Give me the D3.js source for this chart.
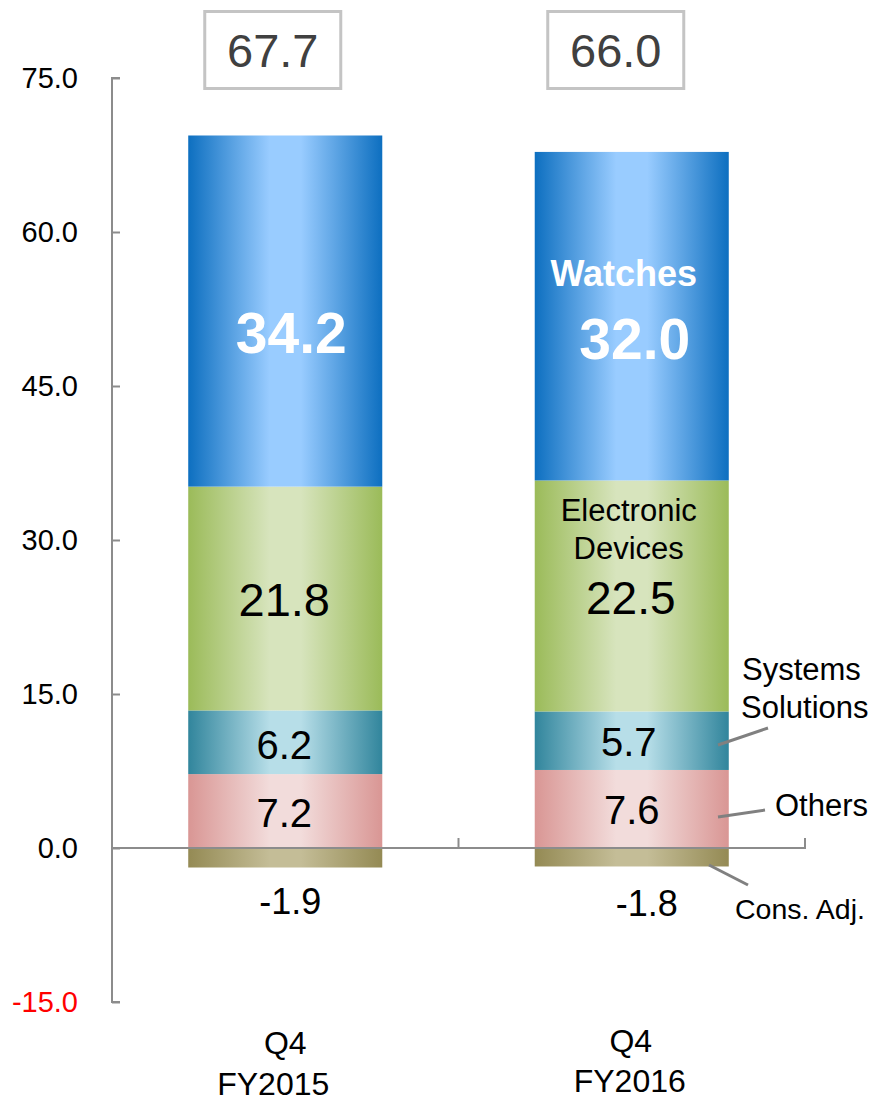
<!DOCTYPE html>
<html><head><meta charset="utf-8">
<script src="https://cdn.jsdelivr.net/npm/d3@7"></script>
<style>body{margin:0;background:#fff}svg{display:block;font-family:"Liberation Sans",Arial,sans-serif}</style>
</head><body><svg id="c" width="877" height="1096"></svg>
<script>
const categories = ["Q4\nFY2015", "Q4\nFY2016"];
const totals = ["67.7", "66.0"];
const others = [7.2, 7.6];
const systems = [6.2, 5.7];
const electronic = [21.8, 22.5];
const watches = [34.2, 32.0];
const consAdj = [-1.9, -1.8];
const yTicks = [-15, 0, 15, 30, 45, 60, 75];

const svg = d3.select("#c");
const y = d3.scaleLinear().domain([-15, 75]).range([1002, 78]);
const x = d3.scaleBand().domain(categories).range([112, 805]).paddingInner(0.44).paddingOuter(0.22);
const fmt = v => d3.format(".1f")(v).replace("\u2212", "-");

const segs = [
  {key:"others", vals:others, dark:"#d99694", light:"#f2dcdb"},
  {key:"systems", vals:systems, dark:"#31859c", light:"#b7dee8"},
  {key:"electronic", vals:electronic, dark:"#9bbb59", light:"#d7e4bd"},
  {key:"watches", vals:watches, dark:"#0d6fc0", light:"#99ccff"},
  {key:"cons", vals:consAdj, dark:"#948a54", light:"#c4bd97"}
];
const defs = svg.append("defs");
segs.forEach(s => {
  const g = defs.append("linearGradient").attr("id","g-"+s.key).attr("x1","0").attr("x2","1").attr("y1","0").attr("y2","0");
  g.append("stop").attr("offset","0").attr("stop-color",s.dark);
  g.append("stop").attr("offset","0.42").attr("stop-color",s.light);
  g.append("stop").attr("offset","0.58").attr("stop-color",s.light);
  g.append("stop").attr("offset","1").attr("stop-color",s.dark);
});

// stacked rects
const rects = [];
categories.forEach((c,i) => {
  let base = 0;
  segs.forEach(s => {
    const v = s.vals[i];
    if (v >= 0) { rects.push({c, key:s.key, y0:base, y1:base+v}); base += v; }
    else rects.push({c, key:s.key, y0:v, y1:0});
  });
});
svg.append("g").selectAll("rect").data(rects).join("rect")
  .attr("x", d => x(d.c)).attr("width", x.bandwidth())
  .attr("y", d => y(d.y1)).attr("height", d => y(d.y0) - y(d.y1))
  .attr("fill", d => "url(#g-"+d.key+")");

// y axis
const axisColor = "#8c8c8c";
const yAxis = svg.append("g").attr("transform","translate(112,0)")
  .call(d3.axisRight(y).tickValues(yTicks).tickSize(8).tickFormat(""));
yAxis.select(".domain").attr("stroke",axisColor).attr("stroke-width",2).attr("d","M8,"+y(75)+"H0V"+y(-15)+"H8");
yAxis.selectAll(".tick line").attr("stroke",axisColor).attr("stroke-width",2);
svg.append("g").selectAll("text").data(yTicks).join("text")
  .attr("x", 78).attr("y", d => y(d)).attr("dy","0.36em").attr("text-anchor","end")
  .attr("font-size",29).attr("fill", d => d < 0 ? "#ff0000" : "#000")
  .text(d => fmt(d));

// x axis at zero
const xAxisG = svg.append("g");
xAxisG.append("line").attr("x1",112).attr("x2",806).attr("y1",y(0)).attr("y2",y(0)).attr("stroke",axisColor).attr("stroke-width",2);
const sepX = [(x(categories[0])+x.bandwidth()+x(categories[1]))/2, 805];
xAxisG.selectAll(".t").data(sepX).join("line").attr("class","t")
  .attr("x1",d=>d).attr("x2",d=>d).attr("y1",y(0)).attr("y2",y(0)-10).attr("stroke",axisColor).attr("stroke-width",2);

// category labels
const catBase = [[1054, 1095], [1052, 1092]];
const catDx = [[0, -12], [-1, -2]];
categories.forEach((c,i) => {
  const cx = x(c) + x.bandwidth()/2;
  c.split("\n").forEach((l,j) => {
    svg.append("text").attr("x",cx + catDx[i][j]).attr("y",catBase[i][j])
      .attr("text-anchor","middle").attr("font-size",32).attr("fill","#000").text(l);
  });
});

// total boxes
const boxOff = [-12.5, -16];
categories.forEach((c,i) => {
  const cx = x(c) + x.bandwidth()/2 + boxOff[i];
  svg.append("rect").attr("x", cx-68).attr("y",11.5).attr("width",136).attr("height",77)
    .attr("fill","#fff").attr("stroke","#c4c4c4").attr("stroke-width",3);
  svg.append("text").attr("x", cx).attr("y",50).attr("dy","0.36em").attr("text-anchor","middle")
    .attr("font-size",47).attr("fill","#404040").text(totals[i]);
});

// segment labels
function lab(cx, yy, txt, size, opts={}) {
  return svg.append("text").attr("x",cx).attr("y",yy).attr("dy","0.36em").attr("text-anchor",opts.anchor||"middle")
    .attr("font-size",size).attr("font-weight",opts.bold?"bold":"normal").attr("fill",opts.fill||"#000").text(txt);
}
const c0 = x(categories[0]) + x.bandwidth()/2, c1 = x(categories[1]) + x.bandwidth()/2;
const top0 = others[0]+systems[0]+electronic[0]+watches[0];
const top1 = others[1]+systems[1]+electronic[1]+watches[1];
lab(c0+6, y(top0) + 197, fmt(watches[0]), 57, {bold:true, fill:"#fff"});
lab(c1-8, y(top1) + 121, "Watches", 36, {bold:true, fill:"#fff"});
lab(c1+3, y(top1) + 187, fmt(watches[1]), 57, {bold:true, fill:"#fff"});
lab(c0-1, y(others[0]+systems[0]+electronic[0]) + 112, fmt(electronic[0]), 47);
lab(c1-3, y(others[1]+systems[1]+electronic[1]) + 29, "Electronic", 31);
lab(c1-3, y(others[1]+systems[1]+electronic[1]) + 67, "Devices", 31);
lab(c1-1, y(others[1]+systems[1]+electronic[1]) + 117, fmt(electronic[1]), 46);
lab(c0-1, y(others[0]+systems[0]/2) + 2, fmt(systems[0]), 40);
lab(c1-3, y(others[1]+systems[1]/2) + 1, fmt(systems[1]), 40);
lab(c0-1, y(others[0]/2) + 2, fmt(others[0]), 40);
lab(c1, y(others[1]/2) + 1, fmt(others[1]), 40);
lab(c0+5, y(consAdj[0]) + 34, fmt(consAdj[0]), 36);
lab(c1+15, y(consAdj[1]) + 37, fmt(consAdj[1]), 36);

// callouts
const lc = "#808080";
svg.append("line").attr("x1",718).attr("y1",745).attr("x2",768).attr("y2",728).attr("stroke",lc).attr("stroke-width",3);
lab(742, 669, "Systems", 31, {anchor:"start"});
lab(741, 707, "Solutions", 31, {anchor:"start"});
svg.append("line").attr("x1",718).attr("y1",817).attr("x2",765).attr("y2",810).attr("stroke",lc).attr("stroke-width",3);
lab(775, 805, "Others", 31, {anchor:"start"});
svg.append("line").attr("x1",709).attr("y1",865).attr("x2",748).attr("y2",885).attr("stroke",lc).attr("stroke-width",3);
lab(735, 909, "Cons. Adj.", 28.5, {anchor:"start"});
</script></body></html>
